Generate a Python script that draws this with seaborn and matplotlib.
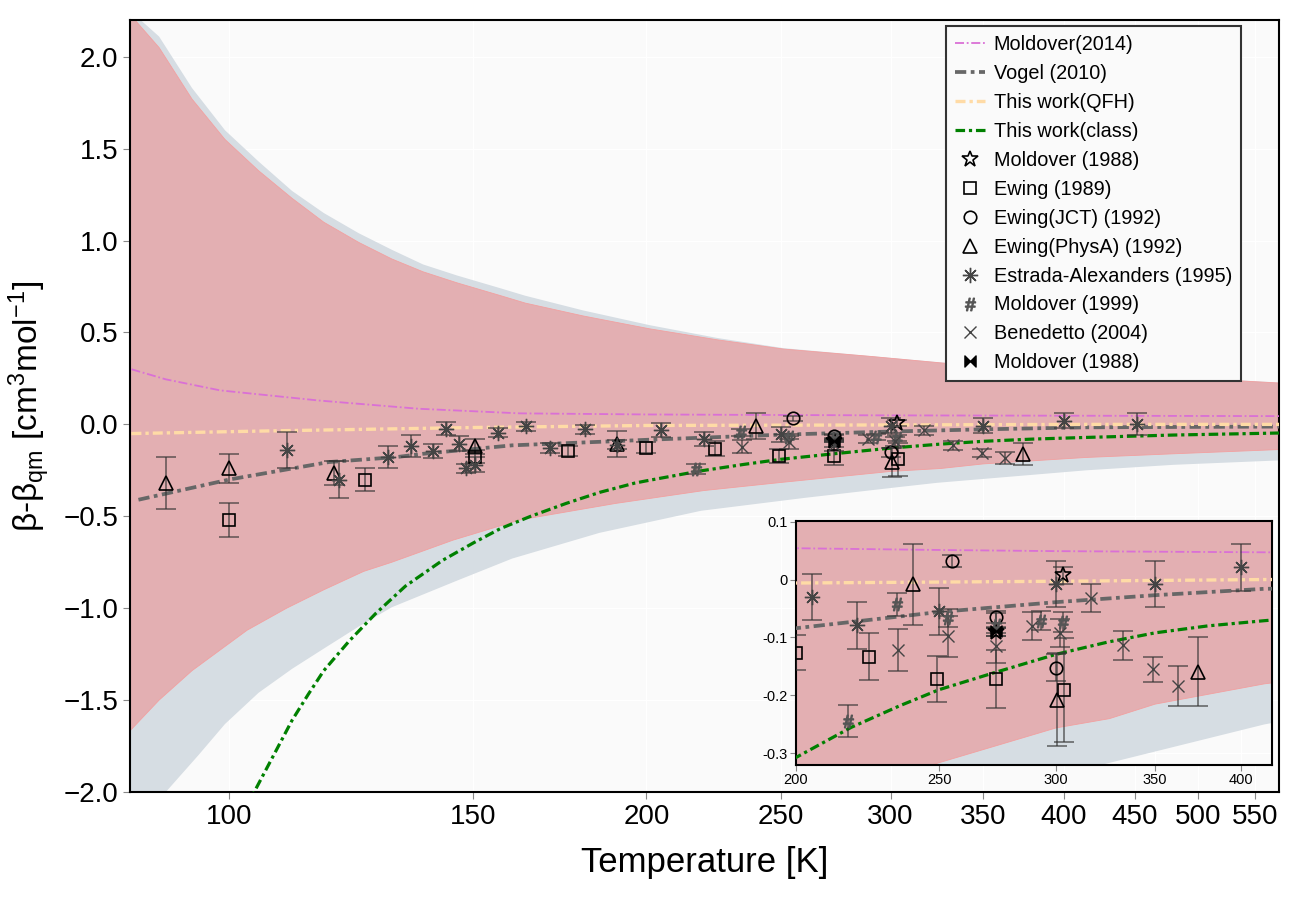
import numpy as np
import pandas as pd
import matplotlib
matplotlib.use("Agg")
import matplotlib.pyplot as plt
from matplotlib.path import Path
from matplotlib.ticker import FixedLocator, NullLocator, FixedFormatter
import seaborn as sns

# ---- uncertainty bands ----
pink_hi_T = [84, 85.5, 89, 94, 99.3, 105, 111, 117, 124, 131, 138, 146, 157, 163.5, 180, 201, 225, 251, 290, 331, 420, 572]
pink_hi = [2.3, 2.2, 2.05, 1.77, 1.55, 1.38, 1.23, 1.10, 0.99, 0.90, 0.83, 0.77, 0.70, 0.66, 0.59, 0.52, 0.46, 0.41, 0.37, 0.33, 0.28, 0.225]
pink_lo_T = [84, 89, 94, 103, 110, 117, 125, 131, 145, 162, 190, 220, 250, 300, 326, 350, 415, 480, 572]
pink_lo = [-1.70, -1.50, -1.34, -1.12, -1.00, -0.90, -0.80, -0.75, -0.63, -0.52, -0.43, -0.36, -0.316, -0.256, -0.24, -0.215, -0.18, -0.16, -0.137]

grey_hi_T = [84, 86.3, 89, 94, 99.3, 105, 111, 117, 124, 131, 138, 146, 157, 163.5, 180, 201, 225, 251, 290, 331, 420, 572]
grey_hi = [2.45, 2.2, 2.11, 1.83, 1.60, 1.43, 1.27, 1.15, 1.04, 0.95, 0.87, 0.81, 0.74, 0.70, 0.62, 0.54, 0.47, 0.415, 0.372, 0.333, 0.282, 0.228]
grey_lo_T = [84, 90, 95, 99.3, 105, 111, 117, 124, 131, 146, 160, 185, 219, 260, 305, 324, 415, 480, 572]
grey_lo = [-2.3, -2.0, -1.80, -1.63, -1.46, -1.33, -1.22, -1.10, -0.995, -0.85, -0.73, -0.59, -0.47, -0.40, -0.34, -0.318, -0.25, -0.22, -0.196]

# ---- curves ----
mold14_T = [85, 90, 98.5, 116, 137, 162, 200, 250, 300, 415, 572]
mold14 = [0.30, 0.245, 0.185, 0.13, 0.085, 0.06, 0.054, 0.051, 0.049, 0.047, 0.045]
vogel_T = [86, 100, 118, 132, 138, 160, 189, 200, 250, 300, 350, 415, 572]
vogel = [-0.41, -0.30, -0.205, -0.178, -0.16, -0.114, -0.092, -0.084, -0.056, -0.039, -0.027, -0.016, -0.012]
qfh_T = [85, 106, 132, 150, 200, 300, 415, 572]
qfh = [-0.05, -0.036, -0.024, -0.017, -0.006, -0.003, 0.0, 0.0]
class_T = [103, 104.4, 108, 111, 114, 117, 122, 127.5, 134, 142.5, 150, 157, 165, 175, 185, 196, 200, 218, 235,
           250, 273, 300, 325, 350, 380, 415, 480, 572]
class_v = [-2.08, -1.99, -1.78, -1.61, -1.47, -1.34, -1.18, -1.03, -0.88, -0.74, -0.645, -0.566, -0.50, -0.43,
           -0.37, -0.32, -0.307, -0.255, -0.218, -0.19, -0.16, -0.129, -0.108, -0.092, -0.08, -0.071, -0.058, -0.047]

# ---- experimental points: T, value, error ----
mold88_T = [273.16, 303]
mold88 = [-0.09, 0.007]
mold88_e = [0.008, 0.015]

ewing89_T = [100, 125.3, 150.3, 175.5, 200, 224, 249.3, 273.2, 303.5]
ewing89 = [-0.52, -0.30, -0.175, -0.145, -0.126, -0.133, -0.172, -0.172, -0.191]
ewing89_e = [0.09, 0.06, 0.035, 0.025, 0.03, 0.04, 0.04, 0.05, 0.09]

ewjct_T = [255, 273.2, 300]
ewjct = [0.032, -0.065, -0.152]
ewjct_e = [0.011, 0.01, 0.023]

ewphys_T = [90, 100, 119, 150.3, 190.6, 240, 300.6, 374]
ewphys = [-0.32, -0.24, -0.265, -0.12, -0.105, -0.008, -0.207, -0.159]
ewphys_e = [0.14, 0.08, 0.065, 0.04, 0.07, 0.07, 0.08, 0.06]

estrada_T = [110.1, 120.1, 130.2, 135.2, 140.3, 143.4, 146.4, 148.2, 150.5, 156.4, 163.7, 170.4,
             180.6, 190.6, 205, 220, 250, 300, 350, 400, 452]
estrada = [-0.14, -0.30, -0.18, -0.118, -0.145, -0.023, -0.105, -0.24, -0.22, -0.045, -0.011, -0.129,
           -0.027, -0.11, -0.03, -0.079, -0.055, -0.008, -0.008, 0.021, 0.004]
estrada_e = [0.10, 0.10, 0.06, 0.06, 0.04, 0.035, 0.04, 0.025, 0.04, 0.025, 0.025, 0.025,
             0.025, 0.025, 0.04, 0.04, 0.04, 0.04, 0.04, 0.04, 0.06]

mold99_T = [217, 234, 253.3, 273.2, 293, 303]
mold99 = [-0.244, -0.043, -0.066, -0.078, -0.071, -0.073]
mold99_e = [0.027, 0.02, 0.016, 0.02, 0.016, 0.017]

bened_T = [234.5, 253.3, 273.2, 289, 302, 317, 333, 349, 363]
bened = [-0.121, -0.098, -0.114, -0.08, -0.092, -0.032, -0.113, -0.155, -0.184]
bened_e = [0.036, 0.035, 0.03, 0.024, 0.024, 0.024, 0.025, 0.021, 0.034]

bowtie_T = [273.16]
bowtie = [-0.088]
bowtie_e = [0.004]

main_xticks = [100, 150, 200, 250, 300, 350, 400, 450, 500, 550]
inset_xticks = [200, 250, 300, 350, 400]
inset_yticks = [-0.3, -0.2, -0.1, 0, 0.1]
inset_ylabels = ['-0.3', '-0.2', '-0.1', '0', '0.1']

sns.set_style("darkgrid", {"axes.facecolor": "#fafafa", "axes.edgecolor": "black",
                           "grid.color": "white", "text.color": "black",
                           "axes.labelcolor": "black", "xtick.color": "black",
                           "ytick.color": "black"})
plt.rcParams['font.family'] = ['Liberation Sans', 'DejaVu Sans']
plt.rcParams['mathtext.default'] = 'regular'

bow = Path([(-1, -1), (-1, 1), (0, 0), (1, 1), (1, -1), (0, 0), (-1, -1)],
           [Path.MOVETO, Path.LINETO, Path.LINETO, Path.LINETO, Path.LINETO, Path.LINETO, Path.CLOSEPOLY])

PINK = '#e3afb2'
GREY = '#d6dde3'
dd = (0, (3, 1.2, 1, 1.2))

fig = plt.figure(figsize=(13, 9), dpi=100)
ax = fig.add_axes([130 / 1300, 1 - 792 / 900, 1149 / 1300, 772 / 900])
axi = fig.add_axes([796 / 1300, 1 - 765 / 900, 476 / 1300, 244 / 900])


def draw(a, labels):
    a.fill(np.r_[grey_hi_T, grey_lo_T[::-1]], np.r_[grey_hi, grey_lo[::-1]], color=GREY, lw=0, zorder=1)
    a.fill(np.r_[pink_hi_T, pink_lo_T[::-1]], np.r_[pink_hi, pink_lo[::-1]], facecolor=PINK,
           edgecolor='#f2a0a0', lw=0.6, zorder=1.1)
    curves = [(mold14_T, mold14, 'orchid', 1.3, 'Moldover(2014)', (0, (5, 1.5, 1, 1.5))),
              (vogel_T, vogel, '#676767', 2.7, 'Vogel (2010)', dd),
              (qfh_T, qfh, '#ffdba6', 2.4, 'This work(QFH)', dd),
              (class_T, class_v, 'green', 2.3, 'This work(class)', dd)]
    for xs, ys, c, lw, lab, ls in curves:
        kw = dict(label=lab) if labels else {}
        sns.lineplot(x=xs, y=ys, ax=a, color=c, lw=lw, linestyle=ls, errorbar=None,
                     zorder=3, **kw)
    pts = [(mold88_T, mold88, mold88_e, '*', 'black', True, 'Moldover (1988)', 12),
           (ewing89_T, ewing89, ewing89_e, 's', 'black', True, 'Ewing (1989)', 9),
           (ewjct_T, ewjct, ewjct_e, 'o', 'black', True, 'Ewing(JCT) (1992)', 9),
           (ewphys_T, ewphys, ewphys_e, '^', 'black', True, 'Ewing(PhysA) (1992)', 9.5),
           (estrada_T, estrada, estrada_e, (8, 2, 0), '#444444', False, 'Estrada-Alexanders (1995)', 11),
           (mold99_T, mold99, mold99_e, r'$\#$', '#555555', False, 'Moldover (1999)', 9),
           (bened_T, bened, bened_e, 'x', '#444444', False, 'Benedetto (2004)', 9),
           (bowtie_T, bowtie, bowtie_e, bow, 'black', False, 'Moldover (1988)', 8)]
    for xs, ys, es, m, c, hollow, lab, ms in pts:
        a.errorbar(xs, ys, yerr=es, fmt='none', ecolor='#333333', elinewidth=1.1, capsize=7,
                   capthick=1.1, alpha=0.75, zorder=4)
        kw = dict(label=lab) if labels else {}
        if hollow:
            a.plot(xs, ys, ls='none', marker=m, ms=ms, mfc='none', mec=c, mew=1.2, zorder=5, **kw)
        else:
            a.plot(xs, ys, ls='none', marker=m, ms=ms, color=c, mec=c, mew=1.0, zorder=5, **kw)


draw(ax, True)
draw(axi, False)

ax.set_xscale('log')
ax.set_xlim(84.8, 572)
ax.set_ylim(-2.0, 2.2)
ax.xaxis.set_major_locator(FixedLocator(main_xticks))
ax.xaxis.set_major_formatter(FixedFormatter([str(t) for t in main_xticks]))
ax.xaxis.set_minor_locator(NullLocator())
ax.set_yticks(np.arange(-2.0, 2.01, 0.5))
ax.tick_params(labelsize=20, length=5, color='#888888', labelcolor='black', left=True, bottom=True)
ax.set_xlabel('Temperature [K]', fontsize=25, labelpad=12, color='black')
ax.set_ylabel(r'β-β$_{qm}$ [cm$^3$mol$^{-1}$]', fontsize=24, labelpad=8, color='black')
for s in ax.spines.values():
    s.set_color('black')
    s.set_linewidth(1.5)

leg = ax.legend(loc='upper right', bbox_to_anchor=(0.967, 0.992), fontsize=14.3, frameon=True,
                fancybox=False, framealpha=1, edgecolor='#333333', labelspacing=0.5,
                handlelength=1.5, borderpad=0.45, handletextpad=0.45, borderaxespad=0)
leg.get_frame().set_linewidth(1.5)
leg.set_zorder(10)
for t in leg.get_texts():
    t.set_color('black')

axi.set_xscale('log')
axi.set_xlim(200, 420)
axi.set_ylim(-0.32, 0.101)
axi.xaxis.set_major_locator(FixedLocator(inset_xticks))
axi.xaxis.set_major_formatter(FixedFormatter([str(t) for t in inset_xticks]))
axi.xaxis.set_minor_locator(NullLocator())
axi.set_yticks(inset_yticks)
axi.set_yticklabels(inset_ylabels)
axi.tick_params(labelsize=10.5, length=4, color='#888888', labelcolor='black', left=True, bottom=True, pad=2)
axi.set_xlabel('')
axi.set_ylabel('')
for s in axi.spines.values():
    s.set_color('black')
    s.set_linewidth(1.5)

fig.savefig('out.png', dpi=100)
